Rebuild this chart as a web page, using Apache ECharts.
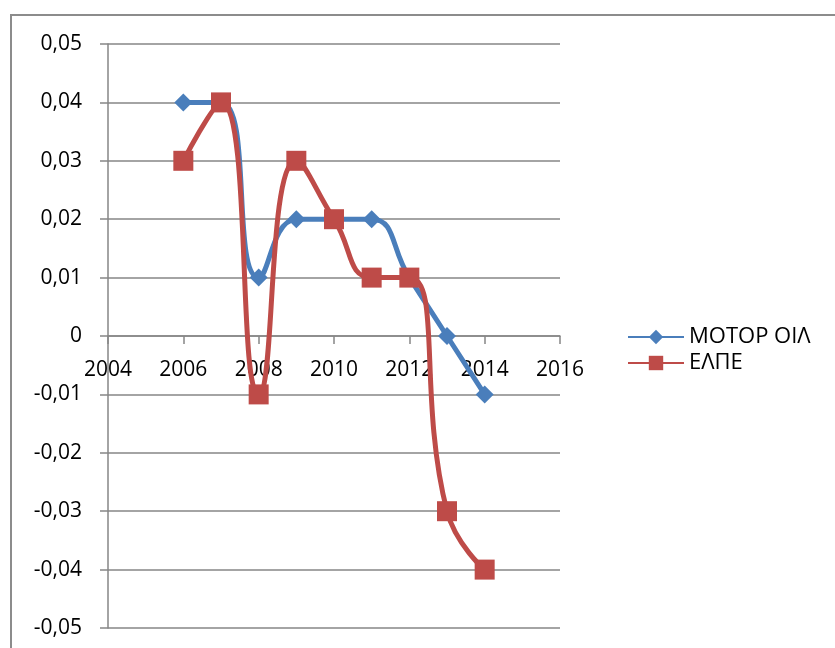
<!DOCTYPE html>
<html><head><meta charset="utf-8">
<script src="https://cdn.jsdelivr.net/npm/echarts@6/dist/echarts.min.js"></script>
<style>html,body{margin:0;padding:0;background:#fff}#c{width:835px;height:648px}</style>
</head><body><div id="c"></div>
<script>
var years = [2006, 2007, 2008, 2009, 2010, 2011, 2012, 2013, 2014];
var motorOil = [0.04, 0.04, 0.01, 0.02, 0.02, 0.02, 0.01, 0, -0.01];
var elpe = [0.03, 0.04, -0.01, 0.03, 0.02, 0.01, 0.01, -0.03, -0.04];
var seriesNames = ['ΜΟΤΟΡ ΟΙΛ', 'ΕΛΠΕ'];

function pairs(xs, ys){ return xs.map(function(x,i){ return [x, ys[i]]; }); }
var font = 'Open Sans';
var gridTop = 44, gridBottom = 20, H = 648;
var zeroOffset = -((H - gridTop - gridBottom) / 2);
var chart = echarts.init(document.getElementById('c'));
chart.setOption({
  animation: false,
  textStyle: {fontFamily: font},
  graphic: [{type:'rect', shape:{x:11, y:15, width:900, height:800}, style:{fill:null, stroke:'#8c8c8c', lineWidth:2}, silent:true}],
  grid: {left:108, right:275, top:gridTop, bottom:gridBottom, containLabel:false, outerBoundsMode:'none'},
  legend: {
    orient:'vertical', left:622, top:321, itemGap:4, itemWidth:56, itemHeight:18,
    textStyle:{fontFamily:font, fontSize:22, color:'#000', padding:[0,0,0,0]},
    data: seriesNames
  },
  xAxis: {
    type:'value', min:2004, max:2016, interval:2, position:'bottom', offset:zeroOffset,
    axisLine:{onZero:false, lineStyle:{color:'#868686', width:1.5}},
    axisTick:{show:true, length:8, lineStyle:{color:'#868686', width:1.5}},
    axisLabel:{color:'#000', fontSize:21, margin:24, fontFamily:font, formatter:function(v){ return String(v); }},
    splitLine:{show:false}
  },
  yAxis: {
    type:'value', min:-0.05, max:0.05, interval:0.01,
    axisLine:{show:true, onZero:false, lineStyle:{color:'#868686', width:1.5}},
    axisTick:{show:true, length:8, lineStyle:{color:'#868686', width:1.5}},
    axisLabel:{color:'#000', fontSize:21, margin:26, fontFamily:font,
      formatter:function(v){ if (Math.abs(v) < 1e-9) return '0'; return v.toFixed(2).replace('.', ','); }},
    splitLine:{show:true, lineStyle:{color:'#868686', width:1.5}}
  },
  series: [
    {name:seriesNames[0], type:'line', smooth:0.5, data:pairs(years, motorOil),
     symbol:'diamond', symbolSize:18,
     lineStyle:{color:'#4A7EBB', width:5}, itemStyle:{color:'#4A7EBB'}},
    {name:seriesNames[1], type:'line', smooth:0.5, data:pairs(years, elpe),
     symbol:'rect', symbolSize:20,
     lineStyle:{color:'#BE4B48', width:5}, itemStyle:{color:'#BE4B48'}}
  ]
});
</script></body></html>
